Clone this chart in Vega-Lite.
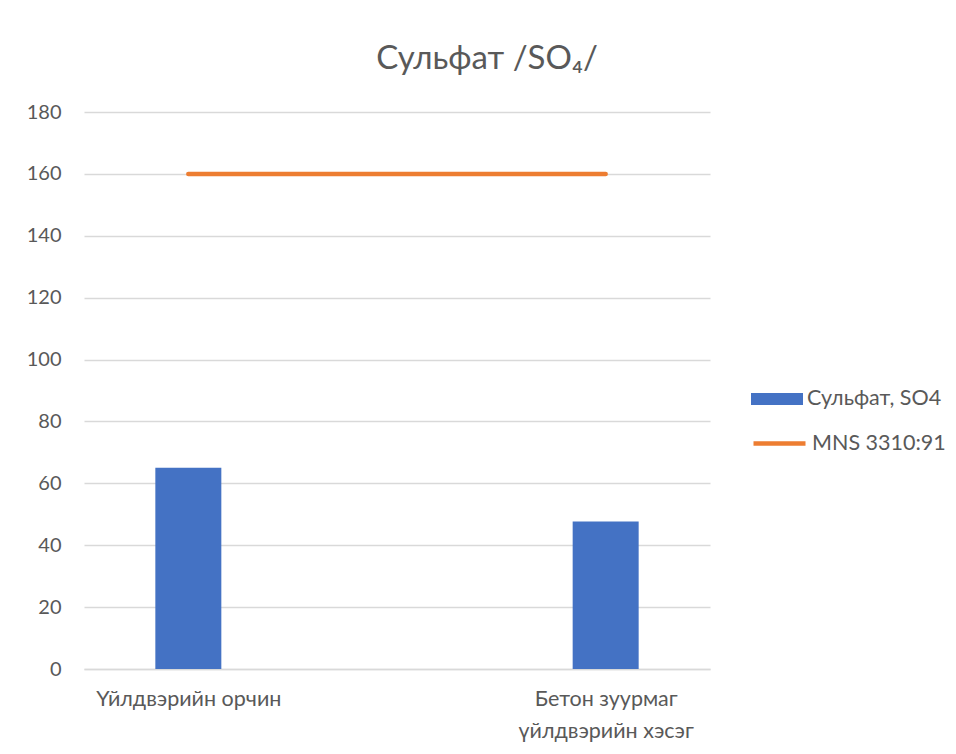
{
  "$schema": "https://vega.github.io/schema/vega-lite/v6.json",
  "autosize": {"type": "none"},
  "width": 626,
  "height": 557,
  "padding": {"left": 84, "top": 112, "right": 246, "bottom": 85},
  "background": "white",
  "title": {
    "text": "Сульфат /SO₄/",
    "font": "Lato, Liberation Sans, sans-serif",
    "fontSize": 33,
    "fontWeight": "normal",
    "color": "#595959",
    "anchor": "middle",
    "dx": 90,
    "offset": 26
  },
  "config": {
    "view": {"stroke": null},
    "font": "Lato, Liberation Sans, sans-serif",
    "axis": {"labelFont": "Lato, Liberation Sans, sans-serif", "labelColor": "#595959", "labelFontSize": 20},
    "legend": {"labelFont": "Lato, Liberation Sans, sans-serif", "labelColor": "#595959", "labelFontSize": 21.5, "padding": 0, "labelLimit": 400}
  },
  "layer": [
    {
      "data": {"values": [
        {"site": "Үйлдвэрийн орчин", "series": "Сульфат, SO4", "value": 65},
        {"site": "Бетон зуурмаг үйлдвэрийн хэсэг", "series": "Сульфат, SO4", "value": 47.7}
      ]},
      "mark": {"type": "bar", "size": 66},
      "encoding": {
        "x": {
          "field": "site", "type": "nominal", "sort": null,
          "scale": {"type": "point", "padding": 0.25},
          "axis": {
            "title": null, "labelAngle": 0, "ticks": false, "domainColor": "#d9d9d9", "domainWidth": 1.5,
            "labelPadding": 19, "labelBaseline": "top", "labelLineHeight": 32, "labelFontSize": 21.5, "labelLimit": 400,
            "labelExpr": "datum.label == 'Бетон зуурмаг үйлдвэрийн хэсэг' ? ['Бетон зуурмаг', 'үйлдвэрийн хэсэг'] : datum.label"
          }
        },
        "y": {
          "field": "value", "type": "quantitative",
          "scale": {"domain": [0, 180], "nice": false},
          "axis": {
            "title": null, "values": [0, 20, 40, 60, 80, 100, 120, 140, 160, 180],
            "domain": false, "ticks": false, "gridColor": "#d9d9d9", "gridWidth": 1.5, "labelPadding": 23
          }
        },
        "fill": {
          "field": "series", "type": "nominal",
          "scale": {"domain": ["Сульфат, SO4"], "range": ["#4472C4"]},
          "legend": {
            "title": null, "orient": "none", "legendX": 667, "legendY": 261,
            "symbolType": "M-1,-0.23H1V0.23H-1Z", "symbolSize": 2704, "symbolStrokeWidth": 0, "symbolOpacity": 1, "labelOffset": 4
          }
        }
      }
    },
    {
      "data": {"values": [
        {"site": "Үйлдвэрийн орчин", "standard": "MNS 3310:91", "value": 160},
        {"site": "Бетон зуурмаг үйлдвэрийн хэсэг", "standard": "MNS 3310:91", "value": 160}
      ]},
      "mark": {"type": "line", "strokeWidth": 4.5, "strokeCap": "round"},
      "encoding": {
        "x": {"field": "site", "type": "nominal", "sort": null},
        "y": {"field": "value", "type": "quantitative"},
        "stroke": {
          "field": "standard", "type": "nominal",
          "scale": {"domain": ["MNS 3310:91"], "range": ["#ED7D31"]},
          "legend": {
            "title": null, "orient": "none", "legendX": 667, "legendY": 303,
            "symbolType": "stroke", "symbolSize": 2704, "symbolStrokeWidth": 4.5, "labelOffset": 4
          }
        }
      }
    }
  ],
  "resolve": {"scale": {"fill": "independent", "stroke": "independent"}}
}
